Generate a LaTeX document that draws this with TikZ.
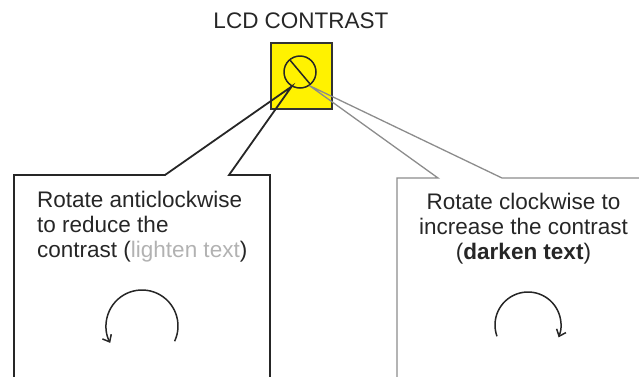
\documentclass[tikz,border=0pt]{standalone}
\usepackage{fontspec}
\setmainfont{Liberation Sans}
\usetikzlibrary{arrows.meta}
\begin{document}
\begin{tikzpicture}[x=1pt,y=1pt,
        caption/.style={font=\fontsize{22.5}{25}\selectfont,text=black!85,inner sep=0pt},
        knob/.style={rectangle,draw=black!80,fill=yellow,line width=1.5pt,minimum width=61pt,minimum height=66pt},
        screw/.style={circle,draw=black!85,line width=1.5pt,minimum size=32pt,inner sep=0pt},
        darkcall/.style={draw=black!85,line width=1.8pt},
        lightcall/.style={draw=black!45,line width=1.3pt},
        turn/.style={draw=black!85,line width=1.5pt,-{Straight Barb[length=6pt,width=10pt]}}
        ]
    \useasboundingbox (0,0) rectangle (639,-376);
    \clip (0,0) rectangle (639,-376);

    \node (title) at (301,-21) [caption] {LCD CONTRAST};
    \node (pot) at (301.5,-76) [knob] {};
    \node (screw) at (300,-72) [screw] {};
    \draw[line width=1.5pt,black!85,shorten <=1.5pt,shorten >=1.5pt] (screw.130) to (screw.-50);

    \coordinate (tipL) at (screw.240);
    \coordinate (tipR) at (screw.-55);

    \draw[darkcall] (270,-400) -- (270,-175) -- (229,-175) -- (tipL) -- (165,-175) -- (14,-175) -- (14,-400);
    \draw[lightcall] (397,-400) -- (397,-178) -- (438,-178) -- (tipR) -- (502,-178) -- (660,-178);

    \node (leftnote) at (37,-191) [caption,align=left,anchor=north west]
        {Rotate anticlockwise\\to reduce the\\contrast (\textcolor{black!30}{lighten text})};
    \node (rightnote) at (523.5,-193) [caption,align=center,anchor=north]
        {Rotate clockwise to\\increase the contrast\\(\textbf{darken text})};

    \coordinate (ccw) at (142,-326);
    \coordinate (cw) at (528,-325);
    \draw[turn] (ccw) ++(-25:36) arc[start angle=-25,end angle=208,radius=36];
    \draw[turn] (cw) ++(200:33) arc[start angle=200,end angle=-22,radius=33];
\end{tikzpicture}
\end{document}
